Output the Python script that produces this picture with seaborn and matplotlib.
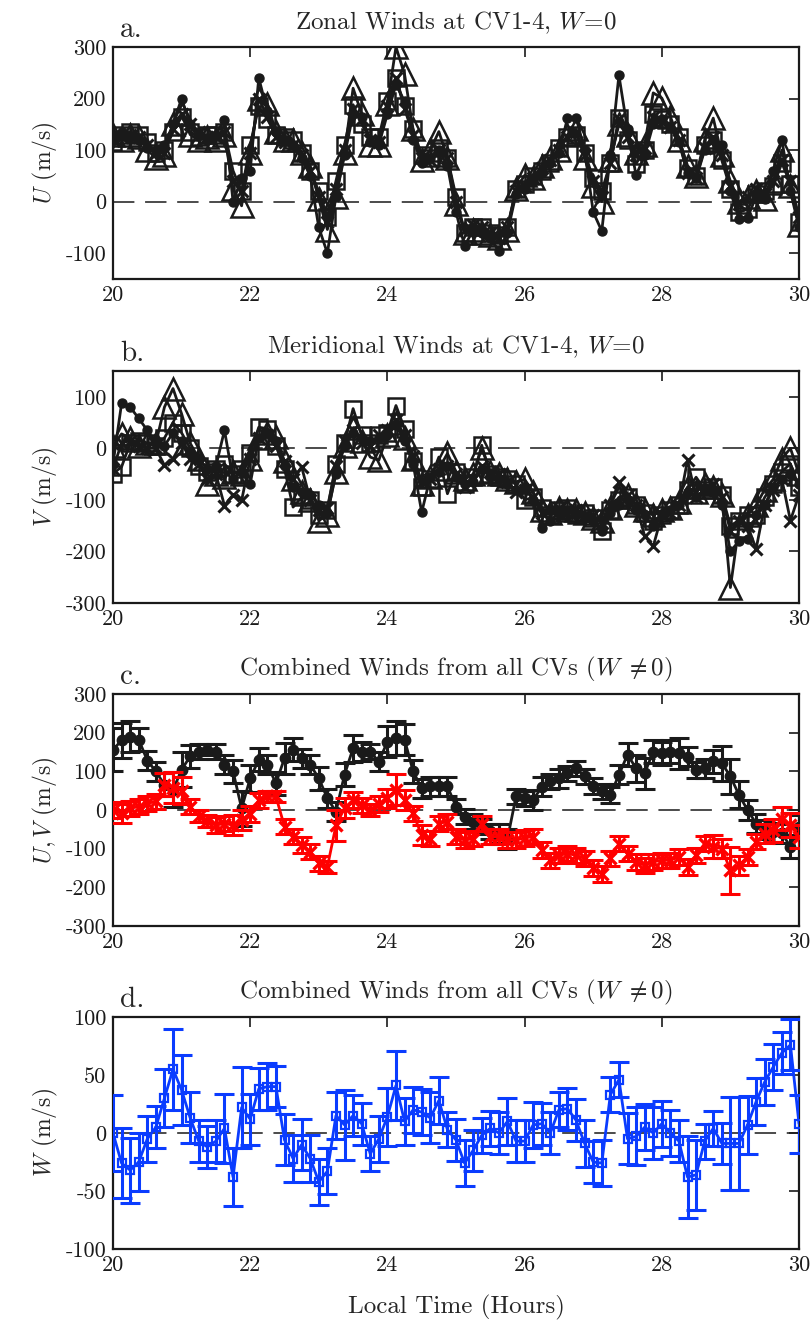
import numpy as np
import pandas as pd
import matplotlib
matplotlib.use("Agg")
import matplotlib.pyplot as plt
import seaborn as sns

# ---------------- data ----------------
time_h = np.linspace(20, 30, 81)  # sample times (local hours)

# panel a: zonal wind at CV1..CV4 (m/s)
U_cv1 = [130, 135, 125, 120, 105, 100, 110, 150, 200, 150,
         130, 120, 130, 159, 0, 45, 60, 240, 175, 135,
         120, 110, 85, 50, -50, -100, 10, 90, 170, 165,
         115, 110, 170, 227, 195, 120, 75, 85, 100, 70,
         -20, -86, -55, -60, -70, -96, -60, 15, 25, 40,
         55, 75, 95, 162, 163, 100, -20, -57, 90, 245,
         140, 51, 90, 150, 160, 145, 115, 55, 45, 100,
         120, 110, 20, -34, -31, 10, 5, 60, 120, 20,
         -50]
U_cv2 = [120, 125, 130, 125, 110, 95, 95, 140, 170, 150,
         135, 125, 125, 135, 40, 20, 95, 200, 165, 125,
         115, 110, 90, 60, 10, -40, 25, 100, 180, 160,
         120, 115, 185, 240, 180, 130, 85, 80, 100, 85,
         0, -55, -45, -50, -60, -70, -50, 20, 30, 45,
         65, 80, 100, 125, 135, 90, 40, 10, 75, 160,
         125, 90, 105, 165, 155, 145, 120, 55, 45, 105,
         125, 90, 30, -5, 10, 25, 15, 40, 80, 40,
         -30]
U_cv3 = [115, 130, 135, 130, 115, 95, 100, 135, 165, 135,
         125, 130, 130, 135, 60, 20, 110, 185, 160, 130,
         125, 120, 95, 60, 20, -30, 40, 110, 188, 150,
         125, 125, 195, 240, 185, 140, 90, 85, 105, 85,
         10, -60, -50, -50, -60, -65, -50, 25, 35, 50,
         60, 75, 105, 125, 130, 95, 45, 20, 75, 162,
         120, 74, 100, 170, 160, 150, 125, 65, 50, 110,
         120, 80, 25, -20, -15, 15, 20, 30, 75, 35,
         -40]
U_cv4 = [130, 120, 130, 125, 100, 85, 90, 150, 170, 130,
         120, 125, 120, 130, 25, -8, 95, 200, 190, 135,
         120, 120, 95, 70, 5, -54, 10, 95, 220, 170,
         110, 110, 190, 300, 247, 140, 80, 100, 136, 85,
         -5, -60, -55, -60, -65, -70, -55, 25, 51, 45,
         70, 85, 100, 130, 140, 85, 30, 0, 80, 150,
         130, 95, 110, 211, 201, 165, 120, 70, 50, 120,
         162, 90, 40, 0, 10, 20, 5, 40, 100, 30,
         -45]

# panel b: meridional wind at CV1..CV4 (m/s)
V_cv1 = [-30, 87, 80, 58, 35, 10, 5, 30, 15, -10,
         -20, -40, -35, 35, -60, -45, -69, 20, 30, 15,
         -35, -75, -85, -90, -110, -125, -50, 5, 30, 20,
         15, 20, 25, 45, 15, -30, -124, -56, -45, -35,
         -55, -70, -65, -40, -55, -60, -70, -80, -75, -100,
         -155, -140, -125, -120, -130, -135, -140, -160, -125, -110,
         -100, -120, -130, -150, -130, -120, -110, -85, -95, -80,
         -85, -110, -200, -180, -175, -130, -110, -75, -60, -50,
         -70]
V_cv2 = [-40, 10, 15, 5, 0, 0, -33, -20, 10, -20,
         -30, -60, -50, -111, -90, -101, -20, 20, 25, 5,
         -25, -60, -36, -100, -120, -115, -35, 15, 35, 10,
         5, 25, 35, 55, 25, -15, -65, -60, -40, -35,
         -50, -75, -60, -35, -45, -50, -65, -85, -80, -95,
         -125, -120, -115, -125, -120, -130, -130, -145, -110, -65,
         -90, -110, -170, -190, -130, -125, -110, -23, -95, -80,
         -70, -95, -160, -140, -150, -195, -110, -80, -60, -140,
         -90]
V_cv3 = [-49, -36, 10, 15, 10, 5, 20, 50, 30, 0,
         -35, -45, -40, -30, -50, -40, -10, 41, 38, 5,
         -40, -114, -95, -100, -130, -120, -30, 10, 77, 25,
         10, 25, 30, 83, 38, -25, -75, -60, -17, -88,
         -45, -70, -55, 6, -50, -55, -60, -70, -100, -95,
         -115, -130, -120, -115, -130, -125, -135, -160, -120, -100,
         -95, -110, -125, -140, -130, -120, -110, -80, -56, -80,
         -75, -90, -150, -140, -130, -130, -95, -70, -45, -30,
         -75]
V_cv4 = [5, 28, 20, 5, 10, 10, 80, 116, 67, 10,
         -20, -69, -50, -55, -45, -50, -20, 20, 30, 22,
         -25, -60, -85, -100, -140, -130, -45, 5, 40, 15,
         -17, -23, 25, 50, 20, -20, -70, -55, -40, -10,
         -45, -60, -50, 0, -45, -50, -60, -65, -60, -85,
         -120, -125, -115, -120, -120, -125, -135, -140, -115, -95,
         -90, -110, -120, -130, -120, -115, -105, -75, -85, -70,
         -75, -90, -270, -150, -130, -110, -80, -60, -20, 0,
         -50]

# panel c: combined U and V with uncertainties (m/s)
U_all = [156, 180, 190, 182, 128, 100, 65, 52, 104, 139,
         151, 156, 151, 117, 100, 4, 82, 130, 117, 69,
         134, 156, 134, 117, 82, 30, -4, 91, 160, 151,
         151, 125, 177, 186, 182, 100, 56, 61, 61, 61,
         9, -17, -30, -43, -55, -60, -75, 35, 30, 26,
         60, 74, 82, 95, 108, 87, 62, 48, 39, 91,
         143, 108, 95, 151, 147, 151, 147, 138, 104, 108,
         126, 121, 87, 39, 0, -35, -50, -58, -60, -95,
         -43]
U_err = [55, 45, 40, 30, 25, 25, 30, 45, 45, 30,
         20, 15, 20, 25, 30, 45, 35, 30, 25, 30,
         40, 30, 25, 25, 30, 25, 25, 30, 35, 25,
         20, 25, 40, 45, 40, 30, 25, 25, 25, 25,
         20, 20, 20, 20, 20, 25, 25, 20, 20, 25,
         25, 20, 25, 20, 20, 20, 20, 20, 20, 25,
         30, 35, 40, 30, 30, 30, 40, 25, 20, 25,
         30, 45, 45, 35, 25, 25, 25, 25, 25, 30,
         30]
V_all = [0, -9, 4, 9, 17, 22, 65, 58, 50, 9,
         -15, -28, -39, -35, -39, -26, -10, 25, 35, 35,
         -43, -69, -90, -108, -138, -147, -40, 5, 26, 12,
         0, 15, 30, 52, 26, -9, -65, -74, -35, -30,
         -69, -78, -74, -35, -69, -69, -78, -78, -72, -69,
         -104, -130, -117, -113, -117, -125, -150, -165, -125, -87,
         -113, -134, -143, -134, -130, -130, -121, -147, -117, -87,
         -95, -100, -156, -143, -121, -82, -61, -52, -22, -39,
         -69]
V_err = [20, 25, 20, 20, 20, 20, 30, 40, 35, 20,
         15, 15, 20, 20, 25, 25, 20, 20, 15, 15,
         20, 20, 20, 20, 20, 15, 40, 25, 20, 20,
         15, 20, 25, 40, 25, 20, 25, 20, 20, 20,
         20, 20, 20, 20, 20, 20, 20, 20, 20, 20,
         20, 20, 20, 20, 20, 20, 20, 20, 20, 20,
         20, 20, 20, 20, 20, 20, 20, 20, 20, 20,
         30, 25, 60, 25, 20, 20, 25, 30, 30, 30,
         30]

# panel d: vertical wind with uncertainty (m/s)
W_all = [0, -26, -32, -25, -5, 5, 30, 55, 37, 13,
         -7, -12, -7, 4, -38, 22, 12, 38, 40, 40,
         -6, -22, -10, -22, -42, -33, 15, 7, 15, 8,
         -18, -5, 14, 41, 10, 20, 18, 13, 28, 3,
         -6, -26, -15, -2, 4, 0, 10, -7, -7, 7,
         8, 0, 20, 21, 11, -9, -25, -26, 33, 46,
         -5, -3, 5, 0, 8, 0, -7, -38, -36, -7,
         4, -9, -9, -9, 7, 27, 44, 57, 69, 76,
         8]
W_err = [33, 30, 28, 25, 20, 18, 25, 35, 30, 22,
         18, 18, 18, 30, 25, 35, 22, 18, 20, 18,
         22, 20, 22, 20, 20, 20, 20, 30, 18, 18,
         15, 20, 25, 30, 20, 20, 20, 22, 20, 15,
         18, 20, 18, 15, 15, 18, 20, 18, 18, 20,
         18, 18, 15, 18, 18, 20, 18, 20, 15, 15,
         22, 25, 20, 22, 20, 20, 18, 35, 30, 15,
         15, 18, 40, 40, 25, 20, 20, 20, 18, 22,
         25]

x_ticks = [20, 22, 24, 26, 28, 30]
panel_letters = ["a.", "b.", "c.", "d."]
titles = ["Zonal Winds at CV1-4, $W\\!=\\!0$",
          "Meridional Winds at CV1-4, $W\\!=\\!0$",
          "Combined Winds from all CVs ($W\\;\\neq 0$)",
          "Combined Winds from all CVs ($W\\;\\neq 0$)"]
ylabels = ["$U$ (m/s)", "$V$ (m/s)", "$U,V$ (m/s)", "$W$ (m/s)"]
y_limits = [(-150, 300), (-300, 150), (-300, 300), (-100, 100)]
y_ticks = [[-100, 0, 100, 200, 300], [-300, -200, -100, 0, 100],
           [-300, -200, -100, 0, 100, 200, 300], [-100, -50, 0, 50, 100]]
xlabel = "Local Time (Hours)"

# ---------------- style ----------------
sns.set_theme(style="white")
plt.rcParams.update({
    "font.family": ["cmr10", "DejaVu Serif"],
    "mathtext.fontset": "cm",
    "axes.unicode_minus": False,
    "axes.linewidth": 1.6,
    "axes.edgecolor": "black",
})

fig = plt.figure(figsize=(8.12, 13.25), dpi=100)
left, width, height = 113 / 812, 686 / 812, 232 / 1325
bottoms = [1 - 279 / 1325, 1 - 603 / 1325, 1 - 926 / 1325, 1 - 1249 / 1325]
axes = [fig.add_axes([left, b, width, height]) for b in bottoms]

LW = 2.0
BLUE = "#0a3cff"

# panel a & b: four CVs
cv_styles = [
    dict(marker="o", ms=6.5, mfc="k", mec="k", mew=1.0),
    dict(marker="x", ms=9, mfc="none", mec="k", mew=2.2),
    dict(marker="s", ms=11, mfc="none", mec="k", mew=1.8),
    dict(marker="^", ms=15.5, mfc="none", mec="k", mew=1.8),
]
for ax, series in ((axes[0], [U_cv1, U_cv2, U_cv3, U_cv4]),
                   (axes[1], [V_cv1, V_cv2, V_cv3, V_cv4])):
    ax.axhline(0, color="k", lw=1.1, ls=(0, (14, 7)), zorder=1)
    for vals, st in zip(series, cv_styles):
        sns.lineplot(x=time_h, y=vals, ax=ax, color="k", lw=LW,
                     estimator=None, zorder=3, **st)

# panel c
ax = axes[2]
ax.axhline(0, color="k", lw=1.1, ls=(0, (14, 7)), zorder=1)
sns.lineplot(x=time_h, y=U_all, ax=ax, color="k", lw=LW, estimator=None,
             marker="o", ms=7.5, mfc="k", mec="k", mew=1.0, zorder=3)
ax.errorbar(time_h, U_all, yerr=U_err, fmt="none", ecolor="k",
            elinewidth=2.2, capsize=7, capthick=2.2, zorder=3)
sns.lineplot(x=time_h, y=V_all, ax=ax, color="red", lw=LW, estimator=None,
             marker="x", ms=8, mfc="none", mec="red", mew=2.4, zorder=4)
ax.errorbar(time_h, V_all, yerr=V_err, fmt="none", ecolor="red",
            elinewidth=2.2, capsize=7, capthick=2.2, zorder=4)

# panel d
ax = axes[3]
ax.axhline(0, color="k", lw=1.1, ls=(0, (14, 7)), zorder=1)
sns.lineplot(x=time_h, y=W_all, ax=ax, color=BLUE, lw=LW, estimator=None,
             marker="s", ms=6, mfc="none", mec=BLUE, mew=1.6, zorder=3)
ax.errorbar(time_h, W_all, yerr=W_err, fmt="none", ecolor=BLUE,
            elinewidth=2.2, capsize=7, capthick=2.2, zorder=3)

for i, ax in enumerate(axes):
    ax.set_xlim(20, 30)
    ax.set_ylim(*y_limits[i])
    ax.set_xticks(x_ticks)
    ax.set_xticklabels([str(v) for v in x_ticks])
    ax.set_yticks(y_ticks[i])
    ax.set_yticklabels([str(v) for v in y_ticks[i]])
    ax.tick_params(direction="in", length=7, width=1.2, top=True, right=True,
                   labelsize=16, pad=5, colors="k")
    ax.set_ylabel(ylabels[i], fontsize=17, labelpad=4)
    ax.set_xlabel("")
    ax.set_title(titles[i], fontsize=18, pad=13)
    ax.text(0.01, 1.045, panel_letters[i], transform=ax.transAxes,
            fontsize=21, ha="left", va="baseline")
    for s in ax.spines.values():
        s.set_visible(True)
        s.set_color("k")
        s.set_linewidth(1.6)
    ax.grid(False)

axes[3].set_xlabel(xlabel, fontsize=18, labelpad=14)

fig.savefig("out.png", dpi=100, facecolor="white")
